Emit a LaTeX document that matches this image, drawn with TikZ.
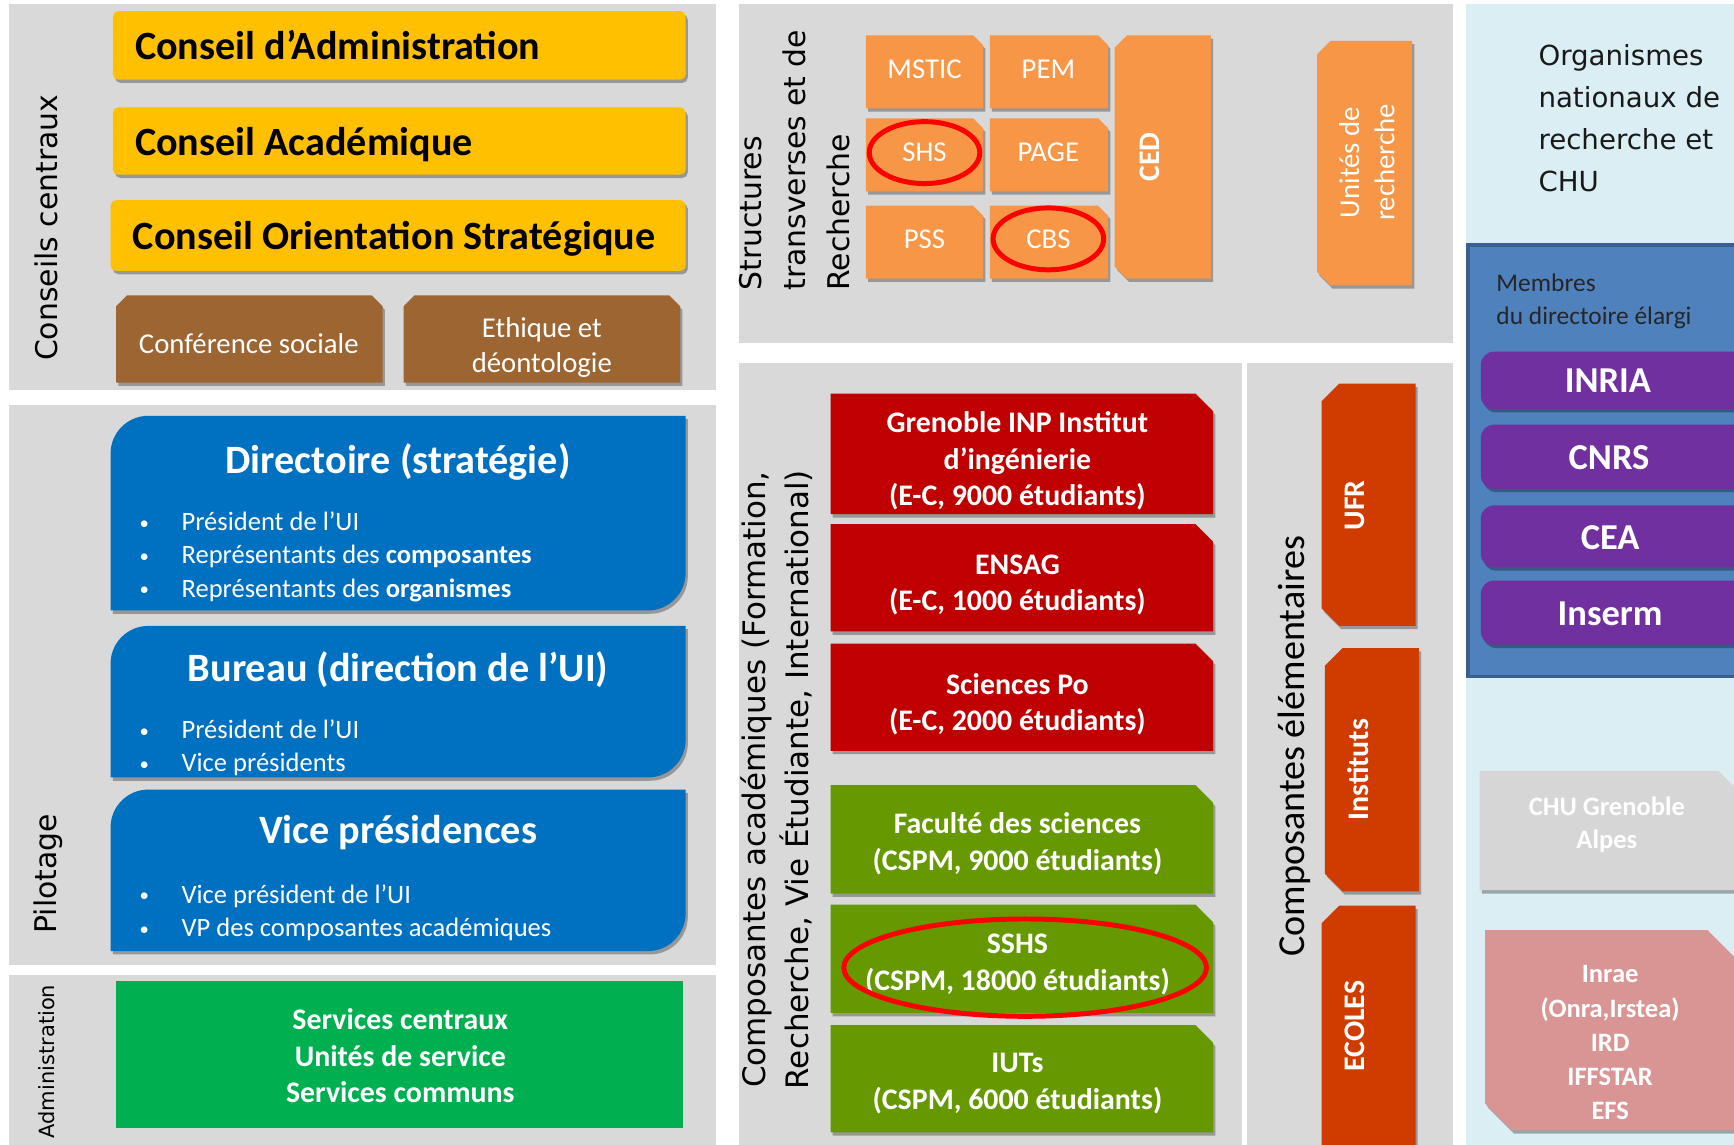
\documentclass[tikz,border=0pt]{standalone}
\usepackage{fontspec}
\setmainfont{Carlito}
\newfontfamily\vfont{DejaVu Sans}
\usetikzlibrary{shadows}
\definecolor{panelgray}{HTML}{D9D9D9}
\definecolor{cyellow}{HTML}{FFC000}
\definecolor{cbrown}{HTML}{9C6532}
\definecolor{cblue}{HTML}{0070C0}
\definecolor{cgreen}{HTML}{00B050}
\definecolor{corange}{HTML}{F79646}
\definecolor{cred}{HTML}{C00000}
\definecolor{colive}{HTML}{669900}
\definecolor{crust}{HTML}{D03C00}
\definecolor{lightblue}{HTML}{DAEEF3}
\definecolor{steel}{HTML}{4F81BD}
\definecolor{steeldark}{HTML}{3A5F8F}
\definecolor{cpurple}{HTML}{7030A0}
\definecolor{cpink}{HTML}{D99594}
\definecolor{chugray}{HTML}{D6D6D6}
\definecolor{ringred}{HTML}{FF0000}
\newcommand{\fsz}[2]{\fontsize{#1}{#2}\selectfont}
% chamfered box: style, x1,y1,x2,y2, tl,tr,br,bl
\newcommand{\cbox}[9]{\fill[#1] ({#2},{#3+#6}) -- ({#2+#6},{#3}) -- ({#4-#7},{#3}) -- ({#4},{#3+#7}) -- ({#4},{#5-#8}) -- ({#4-#8},{#5}) -- ({#2+#9},{#5}) -- ({#2},{#5-#9}) -- cycle;}
% diagonal rounded box: style, x1,y1,x2,y2,r
\newcommand{\rdbox}[6]{\fill[#1] ({#2},{#3+#6}) .. controls ({#2},{#3+0.45*#6}) and ({#2+0.45*#6},{#3}) .. ({#2+#6},{#3}) -- ({#4},{#3}) -- ({#4},{#5-#6}) .. controls ({#4},{#5-0.45*#6}) and ({#4-0.45*#6},{#5}) .. ({#4-#6},{#5}) -- ({#2},{#5}) -- cycle;}
\tikzset{
  shd/.style={drop shadow={shadow xshift=2pt,shadow yshift=-3pt,opacity=0.3,fill=black}},
  wt/.style={text=white, inner sep=0pt, align=center},
  vlabel/.style={rotate=90, inner sep=0pt, font=\vfont\fsz{27}{32}},
  yltext/.style={anchor=base west, inner sep=0pt, font=\bfseries\fsz{36.3}{40}},
  btitle/.style={anchor=base, inner sep=0pt, text=white, font=\bfseries\fsz{36.4}{40}},
  bul/.style={anchor=base west, inner sep=0pt, text=white, font=\fsz{24}{28}},
  small/.style={wt, font=\fsz{26}{32}},
  smallb/.style={wt, font=\bfseries\fsz{27}{33}},
  ring/.style={draw=ringred, line width=4.5pt},
}
\newcommand{\bu}{\makebox[38pt][l]{\raisebox{1.5pt}{\fsz{17}{20}•}}}
\begin{document}
\begin{tikzpicture}[x=1pt,y=-1pt]
\useasboundingbox (0,0) rectangle (1568,1035);
\clip (0,0) rectangle (1568,1035);
\fill[white] (0,0) rectangle (1568,1035);

% ---------- Conseils centraux ----------
\fill[panelgray] (8,4) rectangle (647,353);
\node[vlabel] (lblA) at (42,206) {Conseils centraux};
\fill[cyellow, rounded corners=5pt, shd] (102,10) rectangle (620,72);
\node[yltext] (ca) at (122,54) {Conseil d’Administration};
\fill[cyellow, rounded corners=5pt, shd] (102,97) rectangle (620,158);
\node[yltext] (cac) at (122,141) {Conseil Académique};
\fill[cyellow, rounded corners=5pt, shd] (100,181) rectangle (620,245);
\node[yltext] (cos) at (120,226) {Conseil Orientation Stratégique};
\cbox{cbrown,shd}{105}{267}{346}{346}{10}{10}{0}{0}
\node[small] (cs) at (225,311) {Conférence sociale};
\cbox{cbrown,shd}{365}{267}{615}{346}{10}{10}{0}{0}
\node[small] (eth) at (490,314) {Ethique et\\déontologie};

% ---------- Pilotage ----------
\fill[panelgray] (8,366) rectangle (647,873);
\node[vlabel] (lblB) at (44,790) {Pilotage};
\rdbox{cblue,shd}{100}{376}{620}{552}{34}
\node[btitle] (dirT) at (360,428) {Directoire (stratégie)};
\node[bul] (d1) at (126,480) {\bu Président de l’UI};
\node[bul] (d2) at (126,510) {\bu Représentants des \textbf{composantes}};
\node[bul] (d3) at (126,540) {\bu Représentants des \textbf{organismes}};
\rdbox{cblue,shd}{100}{566}{620}{703}{34}
\node[btitle] (burT) at (360,616) {Bureau (direction de l’UI)};
\node[bul] (b1) at (126,668) {\bu Président de l’UI};
\node[bul] (b2) at (126,698) {\bu Vice présidents};
\rdbox{cblue,shd}{100}{714}{620}{860}{34}
\node[btitle] (vpT) at (360,763) {Vice présidences};
\node[bul] (v1) at (126,817) {\bu Vice président de l’UI};
\node[bul] (v2) at (126,847) {\bu VP des composantes académiques};

% ---------- Administration ----------
\fill[panelgray] (8,882) rectangle (647,1040);
\node[rotate=90, inner sep=0pt, font=\vfont\fsz{19}{24}] (lblC) at (42,960) {Administration};
\fill[cgreen] (105,887) rectangle (618,1020);
\node[wt, font=\bfseries\fsz{27}{33}] (adm) at (362,955) {Services centraux\\Unités de service\\Services communs};

% ---------- Structures transverses ----------
\fill[panelgray] (668,4) rectangle (1314,310);
\node[rotate=90, anchor=north west, inner sep=0pt, align=left, font=\vfont\fsz{27}{40}] (lblD) at (668,263) {Structures\\transverses et de\\Recherche};
\cbox{corange,shd}{783}{32}{889}{98}{0}{9}{0}{0}
\node[small] (mstic) at (836,63) {MSTIC};
\cbox{corange,shd}{895}{32}{1002}{98}{0}{9}{0}{0}
\node[small] (pem) at (948,63) {PEM};
\cbox{corange,shd}{783}{107}{889}{173}{0}{9}{0}{0}
\node[small] (shs) at (836,138) {SHS};
\cbox{corange,shd}{895}{107}{1002}{173}{0}{9}{0}{0}
\node[small] (page) at (948,138) {PAGE};
\cbox{corange,shd}{783}{186}{889}{252}{0}{9}{0}{0}
\node[small] (pss) at (836,216) {PSS};
\cbox{corange,shd}{895}{186}{1002}{252}{0}{9}{0}{0}
\node[small] (cbs) at (948,216) {CBS};
\cbox{corange,shd}{1008}{32}{1095}{252}{11}{0}{0}{11}
\node[smallb, rotate=90] (ced) at (1040,142) {CED};
\cbox{corange,shd}{1191}{37}{1277}{258}{12}{0}{0}{12}
\node[small, rotate=90] (ur) at (1236,147) {Unités de\\recherche};
\draw[ring] (shs) ellipse [x radius=50pt, y radius=28pt];
\draw[ring] (cbs) ellipse [x radius=50pt, y radius=28pt];

% ---------- Composantes académiques ----------
\fill[panelgray] (668,328) rectangle (1123,1040);
\node[rotate=90, inner sep=0pt, align=center, font=\vfont\fsz{28}{39}] (lblE) at (702,705) {Composantes académiques (Formation,\\Recherche, Vie Étudiante, International)};
\cbox{cred,shd}{751}{356}{1097}{465}{0}{16}{0}{0}
\node[smallb] (inp) at (920,417) {Grenoble INP Institut\\d’ingénierie\\(E-C, 9000 étudiants)};
\cbox{cred,shd}{751}{474}{1097}{571}{0}{16}{0}{0}
\node[smallb] (ensag) at (920,529) {ENSAG\\(E-C, 1000 étudiants)};
\cbox{cred,shd}{751}{582}{1097}{679}{0}{16}{0}{0}
\node[smallb] (scpo) at (920,637) {Sciences Po\\(E-C, 2000 étudiants)};
\cbox{colive,shd}{751}{710}{1097}{808}{0}{16}{0}{0}
\node[smallb] (fds) at (920,763) {Faculté des sciences\\(CSPM, 9000 étudiants)};
\cbox{colive,shd}{751}{818}{1097}{916}{0}{16}{0}{0}
\node[smallb] (sshs) at (920,872) {SSHS\\(CSPM, 18000 étudiants)};
\cbox{colive,shd}{751}{927}{1097}{1024}{0}{16}{0}{0}
\node[smallb] (iut) at (920,980) {IUTs\\(CSPM, 6000 étudiants)};
\coordinate (sshsring) at (927,875);
\draw[ring] (sshsring) ellipse [x radius=164pt, y radius=44pt];

% ---------- Composantes élémentaires ----------
\fill[panelgray] (1128,328) rectangle (1314,1040);
\node[rotate=90, inner sep=0pt, font=\fsz{34.5}{36}] (lblF) at (1170,675) {Composantes élémentaires};
\cbox{crust,shd}{1195}{347}{1280}{566}{16}{0}{0}{16}
\node[smallb, rotate=90] (ufr) at (1225,457) {UFR};
\cbox{crust,shd}{1198}{586}{1283}{806}{16}{0}{0}{16}
\node[smallb, rotate=90] (inst) at (1228,696) {Instituts};
\cbox{crust,shd}{1195}{819}{1280}{1060}{16}{0}{0}{16}
\node[smallb, rotate=90] (ecol) at (1225,928) {ECOLES};

% ---------- Organismes ----------
\fill[lightblue] (1326,4) rectangle (1570,1040);
\node[anchor=north west, align=left, inner sep=0pt, font=\vfont\fsz{25}{38}, text=black!90] (org) at (1391,40) {Organismes\\nationaux de\\recherche et\\CHU};
\fill[steel, draw=steeldark, line width=3pt] (1327.5,221.5) rectangle (1575,612);
\node[anchor=north west, align=left, inner sep=0pt, font=\fsz{23}{30}, text=black!85] (memb) at (1353,247) {Membres\\du directoire élargi};
\fill[cpurple, rounded corners=12pt, shd] (1339,318) rectangle (1600,370);
\node[wt, font=\bfseries\fsz{33}{36}] (inria) at (1454,344) {INRIA};
\fill[cpurple, rounded corners=12pt, shd] (1339,384) rectangle (1600,442);
\node[wt, font=\bfseries\fsz{33}{36}] (cnrs) at (1455,414) {CNRS};
\fill[cpurple, rounded corners=12pt, shd] (1339,457) rectangle (1600,513);
\node[wt, font=\bfseries\fsz{33}{36}] (cea) at (1456,486) {CEA};
\fill[cpurple, rounded corners=12pt, shd] (1339,525) rectangle (1600,583);
\node[wt, font=\bfseries\fsz{33}{36}] (inserm) at (1456,555) {Inserm};
\cbox{chugray,shd}{1338}{697}{1568}{805}{0}{14}{0}{0}
\node[wt, font=\bfseries\fsz{24}{30}] (chu) at (1453,746) {CHU Grenoble\\Alpes};
\cbox{cpink,shd}{1343}{841}{1568}{1022}{0}{24}{0}{24}
\node[wt, font=\bfseries\fsz{24}{31}] (inrae) at (1456,943) {Inrae\\(Onra,Irstea)\\IRD\\IFFSTAR\\EFS};
\end{tikzpicture}
\end{document}
